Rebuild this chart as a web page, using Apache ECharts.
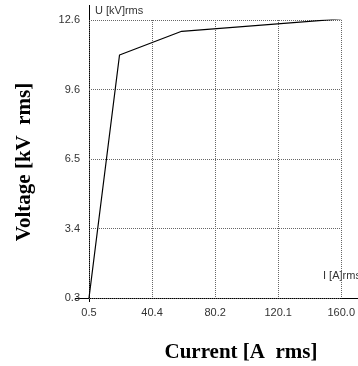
<!DOCTYPE html>
<html><head><meta charset="utf-8">
<script src="https://cdn.jsdelivr.net/npm/echarts@6/dist/echarts.min.js"></script>
<style>html,body{margin:0;padding:0;background:#fff}#c{width:358px;height:366px}</style>
</head><body><div id="c"></div>
<script>
var currentA = [0.5, 19.8, 59.1, 160.0];
var voltageKV = [0.3, 11.05, 12.1, 12.65];
var xTickLabels = ['0.5', '40.4', '80.2', '120.1', '160.0'];
var yTickLabels = ['0.3', '3.4', '6.5', '9.6', '12.6'];
var xMin = 0.5, xMax = 160.0, yMin = 0.3, yMax = 12.6;

var chart = echarts.init(document.getElementById('c'));
var xi = (xMax - xMin) / 4, yi = (yMax - yMin) / 4;
function idxOf(v, min, step) { return Math.round((v - min) / step); }
chart.setOption({
  animation: false,
  backgroundColor: '#fff',
  grid: { left: 89, right: 13, top: 20, bottom: 68 },
  xAxis: {
    type: 'value', min: xMin, max: xMax, interval: xi,
    axisLine: { show: false },
    axisTick: { show: false },
    splitLine: { show: true, lineStyle: { color: '#666', type: [1, 1], width: 1 } },
    axisLabel: { color: '#333', fontFamily: 'Liberation Sans', fontSize: 11, margin: 9,
      formatter: function (v) { return xTickLabels[idxOf(v, xMin, xi)]; } }
  },
  yAxis: {
    type: 'value', min: yMin, max: yMax, interval: yi,
    axisLine: { show: false },
    axisTick: { show: false },
    splitLine: { show: true, lineStyle: { color: '#666', type: [1, 1], width: 1 } },
    axisLabel: { color: '#333', fontFamily: 'Liberation Sans', fontSize: 11, margin: 9,
      padding: [0, 0, 6, 0],
      formatter: function (v) { return yTickLabels[idxOf(v, yMin, yi)]; } }
  },
  series: [{
    type: 'line',
    data: currentA.map(function (c, i) { return [c, voltageKV[i]]; }),
    symbol: 'none',
    lineStyle: { color: '#000', width: 1.2 }
  }],
  graphic: [
    { type: 'line', shape: { x1: 89.5, y1: 5, x2: 89.5, y2: 302 }, style: { stroke: '#000', lineWidth: 1 } },
    { type: 'line', shape: { x1: 75, y1: 298.5, x2: 358, y2: 298.5 }, style: { stroke: '#000', lineWidth: 1 } },
    { type: 'text', left: 95, top: 5, style: { text: 'U [kV]rms', fontFamily: 'Liberation Sans', fontSize: 11, fill: '#333' } },
    { type: 'text', left: 323, top: 270, style: { text: 'I [A]rms', fontFamily: 'Liberation Sans', fontSize: 11, fill: '#333' } },
    { type: 'text', x: 241, y: 353, style: { text: 'Current [A  rms]', fontFamily: 'Liberation Serif', fontWeight: 'bold', fontSize: 21, fill: '#000', align: 'center', verticalAlign: 'middle' } },
    { type: 'text', x: 25, y: 162, rotation: Math.PI / 2, style: { text: 'Voltage [kV  rms]', fontFamily: 'Liberation Serif', fontWeight: 'bold', fontSize: 21, fill: '#000', align: 'center', verticalAlign: 'middle' } }
  ]
});
</script></body></html>
